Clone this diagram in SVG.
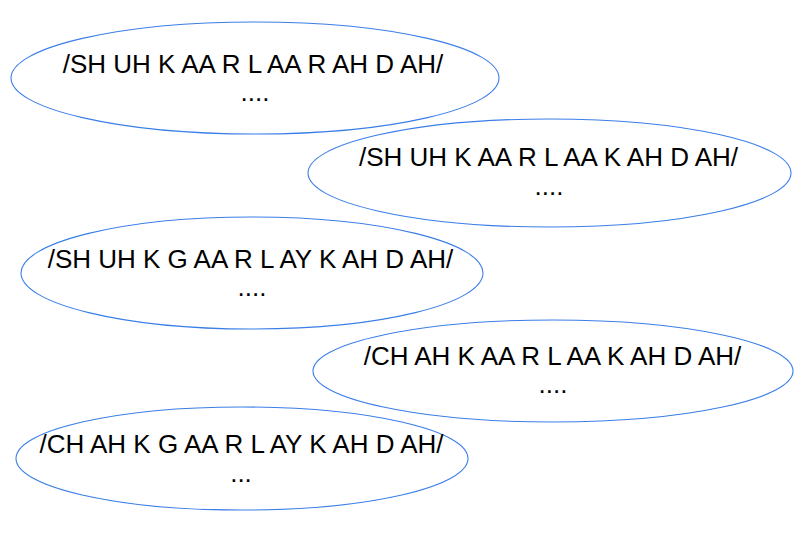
<svg xmlns="http://www.w3.org/2000/svg" width="794" height="541" viewBox="0 0 794 541">
<style>
.n{fill:#ffffff;stroke:#3a7ee8;stroke-width:1.1}
.t{font-family:"Liberation Sans",Arial,sans-serif;font-size:26px;fill:#000;text-anchor:middle}
</style>
<rect width="794" height="541" fill="#fff"/>
<g id="connectors"></g>
<g id="n1"><ellipse class="n" cx="255" cy="78" rx="244" ry="56"/><text class="t" x="253" y="73">/SH UH K AA R L AA R AH D AH/</text><text class="t" x="255" y="101">....</text></g>
<g id="n2"><ellipse class="n" cx="549.5" cy="173" rx="241.5" ry="54"/><text class="t" x="548.5" y="166">/SH UH K AA R L AA K AH D AH/</text><text class="t" x="549" y="195">....</text></g>
<g id="n3"><ellipse class="n" cx="252" cy="273" rx="231" ry="56"/><text class="t" x="250.5" y="268">/SH UH K G AA R L AY K AH D AH/</text><text class="t" x="252" y="296">....</text></g>
<g id="n4"><ellipse class="n" cx="553" cy="371" rx="240" ry="51"/><text class="t" x="552.5" y="365">/CH AH K AA R L AA K AH D AH/</text><text class="t" x="553" y="393">....</text></g>
<g id="n5"><ellipse class="n" cx="242" cy="458.5" rx="226" ry="51.5"/><text class="t" x="241.5" y="453">/CH AH K G AA R L AY K AH D AH/</text><text class="t" x="241" y="482">...</text></g>
</svg>
